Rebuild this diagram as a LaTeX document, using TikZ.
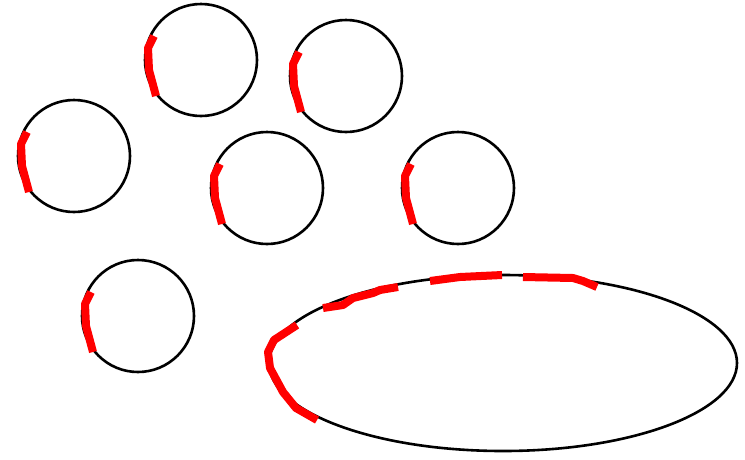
\documentclass[tikz,border=0pt]{standalone}
\usetikzlibrary{calc}
\begin{document}
\begin{tikzpicture}[x=1pt,y=-1pt,
  ring/.style={draw=black,line width=2.6pt},
  redstroke/.style={draw=red,line width=8pt,line join=round},
  ]
\useasboundingbox (0,0) rectangle (745,459);
\foreach \n/\cx/\cy in {a/201/60, b/346/76, c/74/156, d/267/188, e/458/188, f/138/316}{
  \coordinate (\n) at (\cx,\cy);
  \draw[ring] (\n) circle[radius=56];
  \draw[redstroke] ($(\n)+(-47,-24)$) -- ($(\n)+(-53,-12)$) -- ($(\n)+(-52,10)$) -- ($(\n)+(-45,36)$);
}
\coordinate (el) at (503,363);
\draw[ring] (el) ellipse[x radius=234, y radius=88];
\draw[redstroke] (297,325) -- (274,340) -- (268,352) -- (270,368) -- (283,392) -- (296,408) -- (317,420);
\draw[redstroke] (323,308) -- (343,305) -- (353,298) -- (373,293) -- (380,290) -- (398,287);
\draw[redstroke] (430,281) -- (460,277) -- (502,275);
\draw[redstroke] (523,277) -- (573,278) -- (583,281) -- (597,287);
\end{tikzpicture}
\end{document}
